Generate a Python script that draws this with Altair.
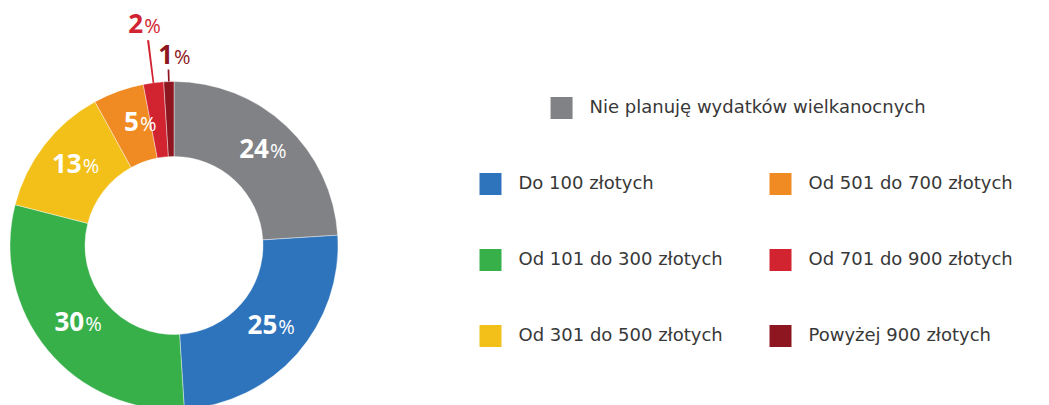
import math
import altair as alt
import pandas as pd

categories = [
    "Nie planuję wydatków wielkanocnych",
    "Do 100 złotych",
    "Od 101 do 300 złotych",
    "Od 301 do 500 złotych",
    "Od 501 do 700 złotych",
    "Od 701 do 900 złotych",
    "Powyżej 900 złotych",
]
values = [24, 25, 30, 13, 5, 2, 1]
colors = ["#808285", "#2E74BC", "#37B04A", "#F3C01A", "#EF8B22", "#D12430", "#8E1621"]
legend_col = [0.245, 0, 0, 0, 1, 1, 1]
legend_row = [0, 1, 2, 3, 1, 2, 3]
label_place = ["in", "in", "in", "in", "in", "out2", "out1"]

df = pd.DataFrame({
    "cat": categories,
    "value": values,
    "lcol": legend_col,
    "lrow": legend_row,
    "place": label_place,
})
df["order"] = range(len(df))
df["end"] = df["value"].cumsum()
df["mid"] = df["end"] - df["value"] / 2
df["lo"] = df["mid"] - 0.08
df["hi"] = df["mid"] + 0.08
df["num"] = df["value"].astype(str)
df["pct"] = "%"

FONT = "Open Sans"
LEG_FONT = "DejaVu Sans"
CX, CY = 174, 245.5
theta_scale = alt.Scale(domain=[0, 100], range=[0, 2 * math.pi])
color_scale = alt.Scale(domain=categories, range=colors)
col = alt.Color("cat:N", scale=color_scale, legend=None)

base = alt.Chart(df).encode(x=alt.value(CX), y=alt.value(CY))

arcs = base.mark_arc(outerRadius=164, innerRadius=89, stroke="white", strokeWidth=0.4).encode(
    theta=alt.Theta("value:Q", stack=True, scale=theta_scale),
    color=col,
    order=alt.Order("order:Q"),
)

inner = base.transform_filter("datum.place == 'in'")
num_in = inner.mark_text(
    radius=127, align="right", baseline="alphabetic", dx=8, dy=5,
    font=FONT, fontSize=26, fontWeight="bold", color="white",
).encode(theta=alt.Theta("mid:Q", scale=theta_scale), text="num:N")
pct_in = inner.mark_text(
    radius=127, align="left", baseline="alphabetic", dx=9, dy=5,
    font=FONT, fontSize=20, color="white",
).encode(theta=alt.Theta("mid:Q", scale=theta_scale), text="pct:N")

out2 = base.transform_filter("datum.place == 'out2'")
out1 = base.transform_filter("datum.place == 'out1'")

lead2 = out2.mark_arc(outerRadius=207, innerRadius=164).encode(
    theta=alt.Theta("lo:Q", scale=theta_scale), theta2="hi:Q", color=col)
lead1 = out1.mark_arc(outerRadius=176, innerRadius=164).encode(
    theta=alt.Theta("lo:Q", scale=theta_scale), theta2="hi:Q", color=col)

num2 = out2.mark_text(
    radius=222, align="right", baseline="alphabetic", dx=-3, dy=8,
    font=FONT, fontSize=26, fontWeight="bold",
).encode(theta=alt.Theta("mid:Q", scale=theta_scale), text="num:N", color=col)
pct2 = out2.mark_text(
    radius=222, align="left", baseline="alphabetic", dx=-2, dy=8,
    font=FONT, fontSize=20,
).encode(theta=alt.Theta("mid:Q", scale=theta_scale), text="pct:N", color=col)
num1 = out1.mark_text(
    radius=190, align="right", baseline="alphabetic", dx=5, dy=8,
    font=FONT, fontSize=26, fontWeight="bold",
).encode(theta=alt.Theta("mid:Q", scale=theta_scale), text="num:N", color=col)
pct1 = out1.mark_text(
    radius=190, align="left", baseline="alphabetic", dx=6, dy=8,
    font=FONT, fontSize=20,
).encode(theta=alt.Theta("mid:Q", scale=theta_scale), text="pct:N", color=col)

leg = alt.Chart(df).encode(
    x=alt.X("lcol:Q", scale=alt.Scale(domain=[0, 1], range=[490.5, 780.5]), axis=None),
    y=alt.Y("lrow:Q", scale=alt.Scale(domain=[0, 3], range=[108, 336]), axis=None),
)
squares = leg.mark_square(size=484, opacity=1).encode(color=col)
leg_text = leg.mark_text(
    align="left", baseline="middle", dx=28, font=LEG_FONT, fontSize=18, color="#383838"
).encode(text="cat:N")

chart = alt.layer(
    arcs, num_in, pct_in, lead2, lead1, num2, pct2, num1, pct1, squares, leg_text
).properties(
    width=1049, height=405, autosize="none", padding=0
).configure_view(stroke=None)

chart.save("out.html", embed_options={"renderer": "svg", "actions": False})
